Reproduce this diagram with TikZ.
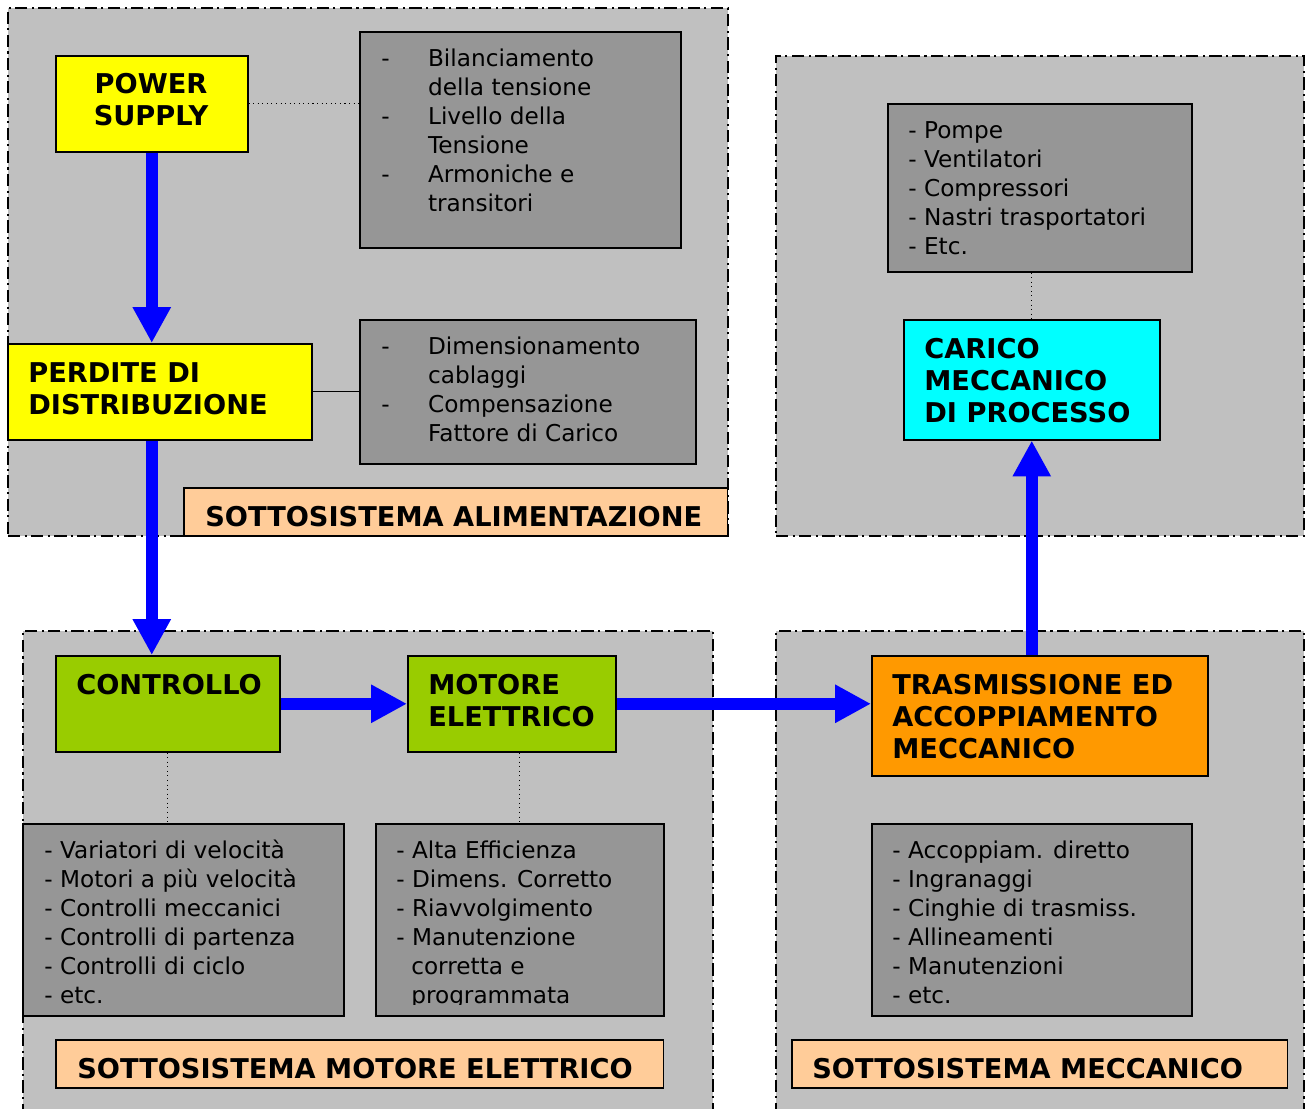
\documentclass[tikz,border=0pt]{standalone}
\usepackage{fontspec}
\setmainfont{DejaVu Sans}
\usepackage{xcolor}
\usetikzlibrary{arrows.meta,positioning}

\definecolor{areagray}{HTML}{C0C0C0}
\definecolor{listgray}{HTML}{969696}
\definecolor{psyellow}{HTML}{FFFF00}
\definecolor{ldcyan}{HTML}{00FFFF}
\definecolor{motgreen}{HTML}{99CC00}
\definecolor{trorange}{HTML}{FF9900}
\definecolor{subpeach}{HTML}{FFCC99}

\newcommand{\headfont}{\fontsize{15.5pt}{18.1pt}\selectfont\bfseries}
\newcommand{\listfont}{\fontsize{13.2pt}{16.4pt}\selectfont}
\newcommand{\tabitem}{\makebox[26.6pt][l]{-}}
\newcommand{\tabcont}{\hspace*{26.6pt}}

\begin{document}
\begin{tikzpicture}[x=0.02cm, y=-0.02cm,
	area/.style={draw, fill=areagray, line width=1pt, dash pattern=on 7pt off 2.5pt on 1.2pt off 2.5pt, anchor=north west, inner sep=0},
	box/.style={draw, line width=0.9pt, anchor=north west, inner sep=0},
	listbox/.style={box, fill=listgray},
	head/.style={font=\headfont, align=left, inner sep=0, anchor=base west},
	items/.style={font=\listfont, align=left, inner sep=0, anchor=base west},
	flow/.style={draw=blue, line width=6.8pt, -{Triangle[width=20.4pt,length=20.4pt]}},
	link/.style={draw, line width=0.6pt}]
	\useasboundingbox (0,0) rectangle (1306,1109);
	% subsystems
	\node[area, minimum width=14.40cm, minimum height=10.56cm] (alim) at (7,7) {};
	\node[area, minimum width=10.56cm, minimum height=9.60cm] (load) at (775,55) {};
	\node[area, minimum width=13.80cm, minimum height=9.80cm] (motor) at (22,630) {};
	\node[area, minimum width=10.56cm, minimum height=9.80cm] (mech) at (775,630) {};
	% boxes
	\node[box, fill=psyellow, minimum width=3.84cm, minimum height=1.92cm] (ps) at (55,55) {};
	\node[listbox, minimum width=6.42cm, minimum height=4.32cm] (l1) at (359,31) {};
	\node[box, fill=psyellow, minimum width=6.08cm, minimum height=1.92cm] (pd) at (7,343) {};
	\node[listbox, minimum width=6.72cm, minimum height=2.88cm] (l2) at (359,319) {};
	\node[box, fill=subpeach, minimum width=10.88cm, minimum height=0.96cm] (sa) at (183,487) {};
	\node[listbox, minimum width=6.08cm, minimum height=3.36cm] (l3) at (887,103) {};
	\node[box, fill=ldcyan, minimum width=5.12cm, minimum height=2.40cm] (cm) at (903,319) {};
	\node[box, fill=motgreen, minimum width=4.48cm, minimum height=1.92cm] (co) at (55,655) {};
	\node[box, fill=motgreen, minimum width=4.16cm, minimum height=1.92cm] (me) at (407,655) {};
	\node[listbox, minimum width=6.42cm, minimum height=3.84cm] (l4) at (22,823) {};
	\node[listbox, minimum width=5.76cm, minimum height=3.84cm] (l5) at (375,823) {};
	\node[box, fill=subpeach, minimum width=12.16cm, minimum height=0.96cm] (sm) at (55,1039) {};
	\node[box, fill=trorange, minimum width=6.72cm, minimum height=2.40cm] (tr) at (871,655) {};
	\node[listbox, minimum width=6.40cm, minimum height=3.84cm] (l6) at (871,823) {};
	\node[box, fill=subpeach, minimum width=9.92cm, minimum height=0.96cm] (sk) at (791,1039) {};
	% titles (base = last line)
	\node[head, align=center, anchor=base] (ps-t) at (151,125) {POWER\\SUPPLY};
	\node[head] (pd-t) at (28,414) {PERDITE DI\\DISTRIBUZIONE};
	\node[head] (cm-t) at (924,422) {CARICO\\MECCANICO\\DI PROCESSO};
	\node[head] (co-t) at (76,694) {CONTROLLO};
	\node[head] (me-t) at (428,726) {MOTORE\\ELETTRICO};
	\node[head] (tr-t) at (892,758) {TRASMISSIONE ED\\ACCOPPIAMENTO\\MECCANICO};
	\node[head] (sa-t) at (205,526) {SOTTOSISTEMA ALIMENTAZIONE};
	\node[head] (sm-t) at (77,1078) {SOTTOSISTEMA MOTORE ELETTRICO};
	\node[head] (sk-t) at (812,1078) {SOTTOSISTEMA MECCANICO};
	% lists
	\node[items] (l1-t) at (381,211) {\tabitem Bilanciamento\\\tabcont della tensione\\\tabitem Livello della\\\tabcont Tensione\\\tabitem Armoniche e\\\tabcont transitori};
	\node[items] (l2-t) at (381,441) {\tabitem Dimensionamento\\\tabcont cablaggi\\\tabitem Compensazione\\\tabcont Fattore di Carico};
	\node[items] (l3-t) at (908,254) {- Pompe\\- Ventilatori\\- Compressori\\- Nastri trasportatori\\- Etc.};
	\node[items] (l4-t) at (44,1003) {- Variatori di velocità\\- Motori a più velocità\\- Controlli meccanici\\- Controlli di partenza\\- Controlli di ciclo\\- etc.};
	\begin{scope}
		\clip (375,823) rectangle (663,1004);
		\node[items] (l5-t) at (396,1003) {- Alta Efficienza\\- Dimens. Corretto\\- Riavvolgimento\\- Manutenzione\\\hspace*{8.5pt}corretta e\\\hspace*{8.5pt}programmata};
	\end{scope}
	\node[items] (l6-t) at (892,1003) {- Accoppiam. diretto\\- Ingranaggi\\- Cinghie di trasmiss.\\- Allineamenti\\- Manutenzioni\\- etc.};
	% links
	\draw[link, dotted] (ps.east) -- (ps.east -| l1.west);
	\draw[link] (pd.east) -- (pd.east -| l2.west);
	\draw[link, dotted] (cm.north |- l3.south) -- (cm.north);
	\draw[link, dotted] (co.south) -- (co.south |- l4.north);
	\draw[link, dotted] (l5.north |- me.south) -- (l5.north);
	% flow
	\draw[flow] (ps.south) -- (ps.south |- pd.north);
	\draw[flow] (ps.south |- pd.south) -- (ps.south |- co.north);
	\draw[flow] (co.east) -- (me.west);
	\draw[flow] (me.east) -- (me.east -| tr.west);
	\draw[flow] (cm.south |- tr.north) -- (cm.south);
\end{tikzpicture}
\end{document}
